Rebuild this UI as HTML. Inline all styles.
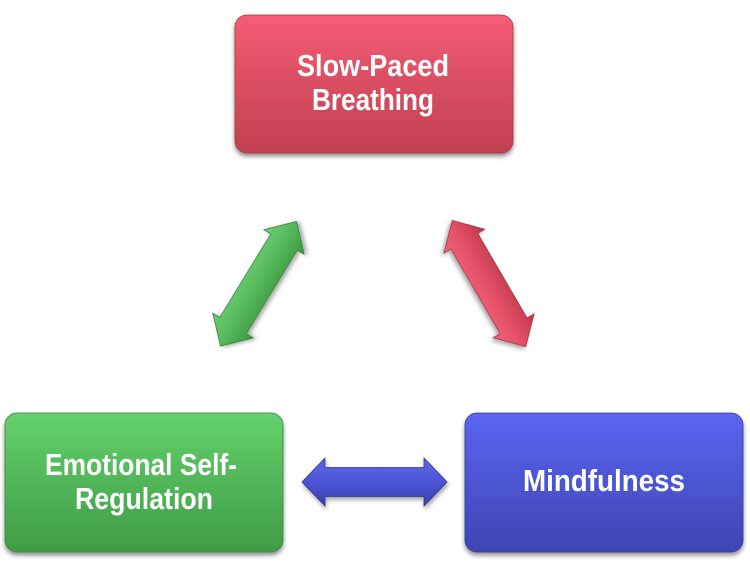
<!DOCTYPE html>
<html>
<head>
<meta charset="utf-8">
<style>
  html,body{margin:0;padding:0;background:#ffffff;}
  svg{display:block;}
  text{font-family:"Liberation Sans", Arial, sans-serif;font-weight:bold;fill:#ffffff;}
</style>
</head>
<body>
<svg width="750" height="566" viewBox="0 0 750 566" xmlns="http://www.w3.org/2000/svg">
  <defs>
    <linearGradient id="gRed" x1="0" y1="0" x2="0" y2="1">
      <stop offset="0" stop-color="#f45c73"/>
      <stop offset="1" stop-color="#c0404f"/>
    </linearGradient>
    <linearGradient id="gGreen" x1="0" y1="0" x2="0" y2="1">
      <stop offset="0" stop-color="#64d06c"/>
      <stop offset="1" stop-color="#3f9c45"/>
    </linearGradient>
    <linearGradient id="gBlue" x1="0" y1="0" x2="0" y2="1">
      <stop offset="0" stop-color="#5a65f2"/>
      <stop offset="1" stop-color="#3d45b2"/>
    </linearGradient>

    <linearGradient id="aGreen" gradientUnits="userSpaceOnUse" x1="0" y1="-24" x2="0" y2="24">
      <stop offset="0" stop-color="#6fd074"/>
      <stop offset="0.5" stop-color="#55b85a"/>
      <stop offset="1" stop-color="#3c963f"/>
    </linearGradient>
    <linearGradient id="aRed" gradientUnits="userSpaceOnUse" x1="0" y1="24" x2="0" y2="-24">
      <stop offset="0" stop-color="#f4647a"/>
      <stop offset="0.5" stop-color="#e24e64"/>
      <stop offset="1" stop-color="#b83a4a"/>
    </linearGradient>
    <linearGradient id="aBlue" gradientUnits="userSpaceOnUse" x1="0" y1="-24" x2="0" y2="24">
      <stop offset="0" stop-color="#6068e8"/>
      <stop offset="0.5" stop-color="#4c55d4"/>
      <stop offset="1" stop-color="#3a41a8"/>
    </linearGradient>

    <filter id="shadow" x="-10%" y="-10%" width="120%" height="130%">
      <feDropShadow dx="0" dy="3" stdDeviation="2.5" flood-color="#000000" flood-opacity="0.45"/>
    </filter>
    <filter id="ashadow" x="-20%" y="-20%" width="140%" height="140%">
      <feDropShadow dx="1" dy="3" stdDeviation="2" flood-color="#000000" flood-opacity="0.35"/>
    </filter>
  </defs>

  <!-- Boxes -->
  <rect x="235" y="15" width="278" height="138" rx="12" ry="12" fill="url(#gRed)" stroke="#a83645" stroke-width="0.8" filter="url(#shadow)"/>
  <rect x="5" y="413" width="278" height="139" rx="12" ry="12" fill="url(#gGreen)" stroke="#378a3c" stroke-width="0.8" filter="url(#shadow)"/>
  <rect x="465" y="413" width="278" height="139" rx="12" ry="12" fill="url(#gBlue)" stroke="#343a9c" stroke-width="0.8" filter="url(#shadow)"/>

  <!-- Box text -->
  <text x="297" y="76" font-size="31" textLength="152" lengthAdjust="spacingAndGlyphs">Slow-Paced</text>
  <text x="312" y="110" font-size="31" textLength="122" lengthAdjust="spacingAndGlyphs">Breathing</text>

  <text x="45" y="475" font-size="31" textLength="192" lengthAdjust="spacingAndGlyphs">Emotional Self-</text>
  <text x="75" y="509" font-size="31" textLength="138" lengthAdjust="spacingAndGlyphs">Regulation</text>

  <text x="523" y="491" font-size="31" textLength="162" lengthAdjust="spacingAndGlyphs">Mindfulness</text>

  <!-- Arrows -->
  <!-- green diagonal -->
  <g transform="translate(258.5,283.8) rotate(-58.6)" filter="url(#ashadow)">
    <polygon points="-73,0 -49,-23.5 -49,-15.5 49,-15.5 49,-23.5 73,0 49,23.5 49,15.5 -49,15.5 -49,23.5"
             fill="url(#aGreen)" stroke="#2f7d33" stroke-width="0.8" stroke-linejoin="miter"/>
  </g>
  <!-- red diagonal -->
  <g transform="translate(489,283.5) rotate(59.8)" filter="url(#ashadow)">
    <polygon points="-73,0 -49,-23.5 -49,-15.5 49,-15.5 49,-23.5 73,0 49,23.5 49,15.5 -49,15.5 -49,23.5"
             fill="url(#aRed)" stroke="#9c2f3d" stroke-width="0.8" stroke-linejoin="miter"/>
  </g>
  <!-- blue horizontal -->
  <g transform="translate(374.5,482)" filter="url(#ashadow)">
    <polygon points="-72.5,0 -49.5,-24 -49.5,-14.5 49.5,-14.5 49.5,-24 72.5,0 49.5,24 49.5,14.5 -49.5,14.5 -49.5,24"
             fill="url(#aBlue)" stroke="#2f3590" stroke-width="0.8" stroke-linejoin="miter"/>
  </g>
</svg>
</body>
</html>
